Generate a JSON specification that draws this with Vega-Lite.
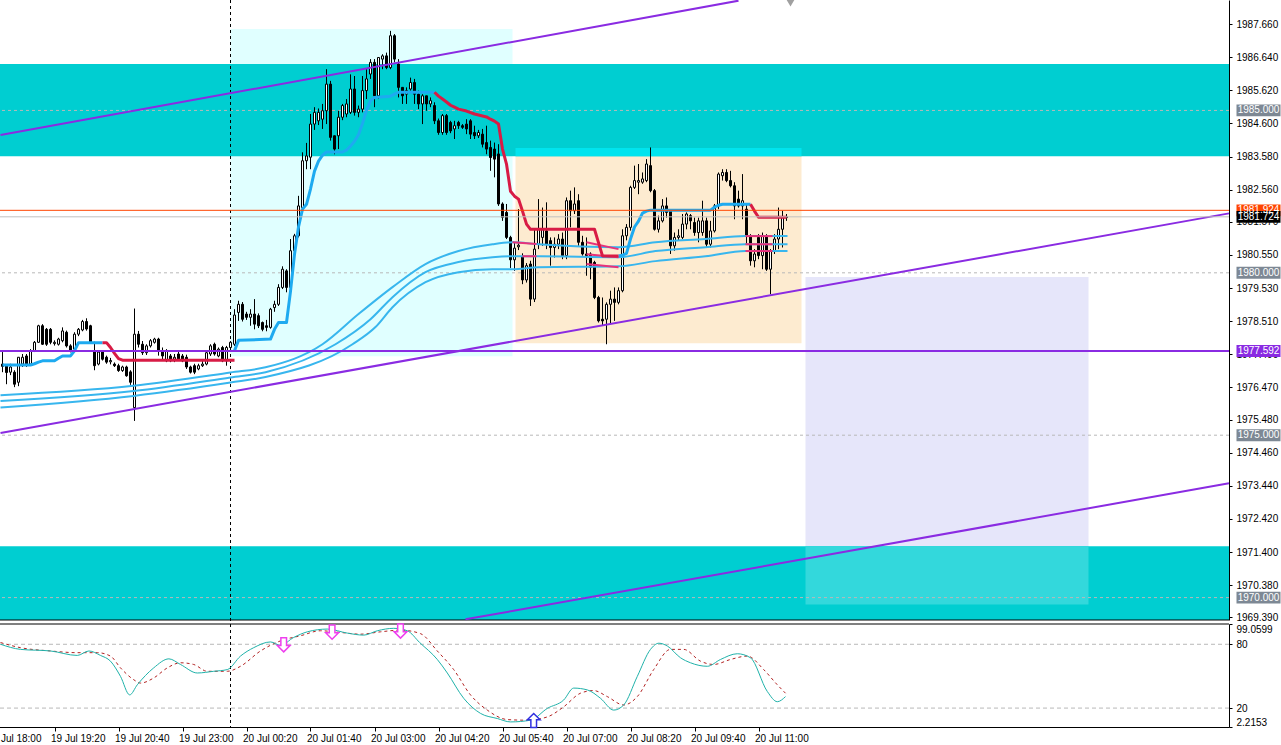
{
"$schema": "https://vega.github.io/schema/vega-lite/v6.json",
"width": 1229,
"height": 727,
"autosize": {"type": "none"},
"padding": {"left": 0, "top": 0, "right": 52, "bottom": 18},
"background": "#ffffff",
"config": {
  "view": {"stroke": null},
  "scale": {"continuousPadding": 0},
  "axis": {"labelFont": "Liberation Sans", "labelFontSize": 10, "labelColor": "#000000", "domainColor": "#000000", "tickColor": "#000000", "grid": false}
},
"datasets": {
  "candles": [
{"i":0,"o":1977.19,"h":1977.56,"l":1976.94,"c":1977.12},
{"i":1,"o":1977.14,"h":1977.19,"l":1976.57,"c":1976.93},
{"i":2,"o":1976.94,"h":1977.2,"l":1976.85,"c":1977.1},
{"i":3,"o":1976.94,"h":1977.0,"l":1976.48,"c":1976.57},
{"i":4,"o":1976.63,"h":1977.4,"l":1976.51,"c":1977.4},
{"i":5,"o":1977.19,"h":1977.5,"l":1977.1,"c":1977.4},
{"i":6,"o":1977.44,"h":1977.5,"l":1977.1,"c":1977.19},
{"i":7,"o":1977.19,"h":1977.65,"l":1977.15,"c":1977.6},
{"i":8,"o":1977.6,"h":1977.9,"l":1977.56,"c":1977.86},
{"i":9,"o":1977.86,"h":1978.4,"l":1977.84,"c":1978.37},
{"i":10,"o":1978.37,"h":1978.42,"l":1977.78,"c":1977.8},
{"i":11,"o":1978.26,"h":1978.3,"l":1977.75,"c":1977.8},
{"i":12,"o":1978.26,"h":1978.3,"l":1977.8,"c":1977.86},
{"i":13,"o":1977.82,"h":1977.92,"l":1977.76,"c":1977.86},
{"i":14,"o":1977.8,"h":1978.0,"l":1977.76,"c":1977.96},
{"i":15,"o":1977.91,"h":1978.32,"l":1977.86,"c":1978.21},
{"i":16,"o":1978.17,"h":1978.22,"l":1977.7,"c":1977.75},
{"i":17,"o":1977.75,"h":1977.8,"l":1977.55,"c":1977.6},
{"i":18,"o":1977.65,"h":1978.17,"l":1977.6,"c":1978.11},
{"i":19,"o":1978.11,"h":1978.3,"l":1978.05,"c":1978.26},
{"i":20,"o":1978.24,"h":1978.55,"l":1978.2,"c":1978.5},
{"i":21,"o":1978.5,"h":1978.6,"l":1978.22,"c":1978.27},
{"i":22,"o":1978.37,"h":1978.4,"l":1977.82,"c":1977.86},
{"i":23,"o":1977.6,"h":1977.88,"l":1977.0,"c":1977.14},
{"i":24,"o":1977.19,"h":1977.62,"l":1977.15,"c":1977.56},
{"i":25,"o":1977.56,"h":1977.62,"l":1977.3,"c":1977.34},
{"i":26,"o":1977.4,"h":1977.45,"l":1977.2,"c":1977.25},
{"i":27,"o":1977.26,"h":1977.38,"l":1977.18,"c":1977.3},
{"i":28,"o":1977.19,"h":1977.24,"l":1977.1,"c":1977.14},
{"i":29,"o":1977.14,"h":1977.2,"l":1976.95,"c":1976.99},
{"i":30,"o":1976.99,"h":1977.14,"l":1976.95,"c":1977.1},
{"i":31,"o":1977.1,"h":1977.14,"l":1976.8,"c":1976.83},
{"i":32,"o":1976.95,"h":1977.0,"l":1976.55,"c":1976.63},
{"i":33,"o":1975.85,"h":1978.9,"l":1975.44,"c":1978.11},
{"i":34,"o":1978.11,"h":1978.21,"l":1977.7,"c":1977.8},
{"i":35,"o":1977.8,"h":1977.9,"l":1977.47,"c":1977.54},
{"i":36,"o":1977.54,"h":1977.8,"l":1977.47,"c":1977.75},
{"i":37,"o":1977.75,"h":1977.96,"l":1977.7,"c":1977.91},
{"i":38,"o":1977.86,"h":1978.0,"l":1977.82,"c":1977.96},
{"i":39,"o":1977.96,"h":1978.0,"l":1977.45,"c":1977.6},
{"i":40,"o":1977.6,"h":1977.7,"l":1977.33,"c":1977.44},
{"i":41,"o":1977.29,"h":1977.65,"l":1977.25,"c":1977.6},
{"i":42,"o":1977.44,"h":1977.5,"l":1977.25,"c":1977.29},
{"i":43,"o":1977.34,"h":1977.5,"l":1977.25,"c":1977.4},
{"i":44,"o":1977.5,"h":1977.58,"l":1977.3,"c":1977.34},
{"i":45,"o":1977.44,"h":1977.5,"l":1977.25,"c":1977.29},
{"i":46,"o":1977.4,"h":1977.48,"l":1977.04,"c":1977.1},
{"i":47,"o":1977.1,"h":1977.14,"l":1976.9,"c":1976.94},
{"i":48,"o":1977.14,"h":1977.2,"l":1976.88,"c":1976.94},
{"i":49,"o":1977.04,"h":1977.2,"l":1977.0,"c":1977.14},
{"i":50,"o":1977.14,"h":1977.3,"l":1977.1,"c":1977.19},
{"i":51,"o":1977.19,"h":1977.58,"l":1977.15,"c":1977.54},
{"i":52,"o":1977.5,"h":1977.8,"l":1977.44,"c":1977.75},
{"i":53,"o":1977.8,"h":1977.85,"l":1977.45,"c":1977.5},
{"i":54,"o":1977.44,"h":1977.7,"l":1977.4,"c":1977.65},
{"i":55,"o":1977.7,"h":1977.75,"l":1977.25,"c":1977.29},
{"i":56,"o":1977.29,"h":1977.75,"l":1977.14,"c":1977.7},
{"i":57,"o":1977.7,"h":1977.9,"l":1977.65,"c":1977.86},
{"i":58,"o":1977.8,"h":1978.88,"l":1977.75,"c":1978.7},
{"i":59,"o":1978.78,"h":1979.14,"l":1978.52,"c":1979.03},
{"i":60,"o":1979.03,"h":1979.1,"l":1978.5,"c":1978.57},
{"i":61,"o":1978.73,"h":1978.8,"l":1978.55,"c":1978.63},
{"i":62,"o":1978.63,"h":1978.88,"l":1978.37,"c":1978.73},
{"i":63,"o":1978.73,"h":1979.19,"l":1978.26,"c":1978.42},
{"i":64,"o":1978.68,"h":1978.75,"l":1978.3,"c":1978.37},
{"i":65,"o":1978.47,"h":1978.5,"l":1978.2,"c":1978.26},
{"i":66,"o":1978.37,"h":1978.55,"l":1978.2,"c":1978.32},
{"i":67,"o":1978.32,"h":1978.92,"l":1978.28,"c":1978.88},
{"i":68,"o":1978.93,"h":1979.14,"l":1978.8,"c":1979.03},
{"i":69,"o":1979.03,"h":1979.65,"l":1978.98,"c":1979.55},
{"i":70,"o":1979.55,"h":1980.2,"l":1979.5,"c":1980.11},
{"i":71,"o":1980.06,"h":1980.11,"l":1979.4,"c":1979.55},
{"i":72,"o":1979.55,"h":1981.04,"l":1979.45,"c":1980.68},
{"i":73,"o":1980.68,"h":1981.2,"l":1980.6,"c":1981.14},
{"i":74,"o":1981.14,"h":1982.37,"l":1981.09,"c":1982.06},
{"i":75,"o":1982.01,"h":1983.71,"l":1981.81,"c":1983.45},
{"i":76,"o":1983.45,"h":1984.0,"l":1983.19,"c":1983.6},
{"i":77,"o":1983.56,"h":1984.89,"l":1983.19,"c":1984.58},
{"i":78,"o":1984.58,"h":1985.1,"l":1984.4,"c":1984.94},
{"i":79,"o":1984.68,"h":1985.06,"l":1984.55,"c":1984.94},
{"i":80,"o":1984.73,"h":1985.2,"l":1984.43,"c":1984.99},
{"i":81,"o":1984.99,"h":1986.27,"l":1984.58,"c":1985.81},
{"i":82,"o":1985.81,"h":1985.91,"l":1984.07,"c":1984.17},
{"i":83,"o":1984.22,"h":1984.22,"l":1983.65,"c":1983.81},
{"i":84,"o":1984.22,"h":1984.99,"l":1983.81,"c":1984.79},
{"i":85,"o":1984.79,"h":1985.2,"l":1984.7,"c":1985.15},
{"i":86,"o":1984.89,"h":1985.35,"l":1984.79,"c":1985.2},
{"i":87,"o":1984.94,"h":1986.11,"l":1984.89,"c":1985.66},
{"i":88,"o":1985.66,"h":1986.06,"l":1984.84,"c":1984.94},
{"i":89,"o":1984.94,"h":1985.15,"l":1984.79,"c":1985.04},
{"i":90,"o":1985.04,"h":1986.06,"l":1984.94,"c":1985.61},
{"i":91,"o":1985.61,"h":1986.27,"l":1985.35,"c":1985.97},
{"i":92,"o":1986.12,"h":1986.58,"l":1985.97,"c":1986.48},
{"i":93,"o":1986.48,"h":1986.58,"l":1985.1,"c":1985.45},
{"i":94,"o":1985.45,"h":1986.63,"l":1985.35,"c":1986.63},
{"i":95,"o":1986.58,"h":1986.73,"l":1986.27,"c":1986.68},
{"i":96,"o":1986.68,"h":1986.78,"l":1986.27,"c":1986.32},
{"i":97,"o":1986.32,"h":1987.45,"l":1986.27,"c":1987.3},
{"i":98,"o":1987.3,"h":1987.35,"l":1986.48,"c":1986.58},
{"i":99,"o":1986.43,"h":1986.58,"l":1985.4,"c":1985.71},
{"i":100,"o":1985.71,"h":1985.71,"l":1985.2,"c":1985.45},
{"i":101,"o":1985.5,"h":1985.71,"l":1985.2,"c":1985.61},
{"i":102,"o":1985.66,"h":1986.01,"l":1985.61,"c":1985.86},
{"i":103,"o":1985.86,"h":1985.97,"l":1985.2,"c":1985.5},
{"i":104,"o":1985.5,"h":1985.61,"l":1985.04,"c":1985.2},
{"i":105,"o":1985.2,"h":1985.5,"l":1984.58,"c":1985.45},
{"i":106,"o":1985.45,"h":1985.45,"l":1984.99,"c":1985.2},
{"i":107,"o":1985.2,"h":1985.4,"l":1985.1,"c":1985.3},
{"i":108,"o":1985.15,"h":1985.25,"l":1984.58,"c":1984.68},
{"i":109,"o":1984.68,"h":1984.75,"l":1984.25,"c":1984.32},
{"i":110,"o":1984.32,"h":1984.89,"l":1984.25,"c":1984.84},
{"i":111,"o":1984.84,"h":1984.89,"l":1984.25,"c":1984.32},
{"i":112,"o":1984.63,"h":1984.68,"l":1984.3,"c":1984.37},
{"i":113,"o":1984.43,"h":1984.68,"l":1984.12,"c":1984.53},
{"i":114,"o":1984.63,"h":1984.68,"l":1984.43,"c":1984.53},
{"i":115,"o":1984.53,"h":1984.58,"l":1984.43,"c":1984.48},
{"i":116,"o":1984.58,"h":1984.73,"l":1984.27,"c":1984.43},
{"i":117,"o":1984.68,"h":1984.73,"l":1984.12,"c":1984.27},
{"i":118,"o":1984.32,"h":1984.53,"l":1984.12,"c":1984.22},
{"i":119,"o":1984.22,"h":1984.4,"l":1984.15,"c":1984.32},
{"i":120,"o":1984.27,"h":1984.43,"l":1983.86,"c":1983.96},
{"i":121,"o":1984.01,"h":1984.53,"l":1983.65,"c":1983.81},
{"i":122,"o":1983.86,"h":1984.07,"l":1983.14,"c":1983.55},
{"i":123,"o":1983.81,"h":1984.01,"l":1982.94,"c":1983.5},
{"i":124,"o":1983.66,"h":1983.96,"l":1982.06,"c":1982.12},
{"i":125,"o":1982.12,"h":1982.17,"l":1981.6,"c":1981.71},
{"i":126,"o":1981.86,"h":1982.12,"l":1981.04,"c":1981.09},
{"i":127,"o":1981.09,"h":1981.14,"l":1980.15,"c":1980.4},
{"i":128,"o":1980.4,"h":1980.94,"l":1980.06,"c":1980.76},
{"i":129,"o":1980.8,"h":1981.96,"l":1980.7,"c":1980.85},
{"i":130,"o":1980.5,"h":1980.6,"l":1979.65,"c":1979.78},
{"i":131,"o":1979.78,"h":1980.3,"l":1979.7,"c":1980.22},
{"i":132,"o":1980.27,"h":1980.37,"l":1978.98,"c":1979.19},
{"i":133,"o":1979.19,"h":1981.34,"l":1979.1,"c":1980.73},
{"i":134,"o":1980.88,"h":1982.27,"l":1980.73,"c":1981.34},
{"i":135,"o":1981.09,"h":1982.01,"l":1980.83,"c":1981.34},
{"i":136,"o":1981.29,"h":1982.17,"l":1980.73,"c":1980.88},
{"i":137,"o":1980.99,"h":1981.09,"l":1980.22,"c":1980.78},
{"i":138,"o":1980.78,"h":1981.09,"l":1980.47,"c":1980.88},
{"i":139,"o":1980.88,"h":1981.19,"l":1980.73,"c":1981.04},
{"i":140,"o":1981.04,"h":1981.24,"l":1980.42,"c":1980.53},
{"i":141,"o":1980.53,"h":1982.32,"l":1980.42,"c":1982.22},
{"i":142,"o":1982.22,"h":1982.53,"l":1981.4,"c":1981.91},
{"i":143,"o":1981.91,"h":1982.63,"l":1981.81,"c":1982.12},
{"i":144,"o":1982.22,"h":1982.42,"l":1980.83,"c":1980.94},
{"i":145,"o":1980.94,"h":1981.14,"l":1980.53,"c":1980.58},
{"i":146,"o":1980.58,"h":1981.09,"l":1979.91,"c":1980.53},
{"i":147,"o":1980.58,"h":1980.63,"l":1979.8,"c":1980.17},
{"i":148,"o":1980.32,"h":1980.37,"l":1979.19,"c":1979.24},
{"i":149,"o":1979.24,"h":1979.29,"l":1978.47,"c":1978.52},
{"i":150,"o":1978.57,"h":1979.24,"l":1978.37,"c":1978.52},
{"i":151,"o":1978.57,"h":1979.09,"l":1977.8,"c":1979.03},
{"i":152,"o":1979.03,"h":1979.45,"l":1978.42,"c":1979.19},
{"i":153,"o":1979.19,"h":1979.55,"l":1978.52,"c":1979.09},
{"i":154,"o":1979.09,"h":1979.55,"l":1979.03,"c":1979.45},
{"i":155,"o":1979.45,"h":1981.34,"l":1979.4,"c":1981.14},
{"i":156,"o":1981.14,"h":1981.5,"l":1981.0,"c":1981.4},
{"i":157,"o":1981.4,"h":1982.68,"l":1981.3,"c":1982.63},
{"i":158,"o":1982.63,"h":1983.3,"l":1982.58,"c":1982.84},
{"i":159,"o":1982.79,"h":1983.35,"l":1982.42,"c":1982.84},
{"i":160,"o":1982.79,"h":1983.09,"l":1982.74,"c":1982.89},
{"i":161,"o":1982.84,"h":1983.5,"l":1982.79,"c":1983.35},
{"i":162,"o":1983.3,"h":1983.86,"l":1982.48,"c":1982.53},
{"i":163,"o":1982.53,"h":1982.58,"l":1981.3,"c":1981.34},
{"i":164,"o":1981.34,"h":1981.76,"l":1981.24,"c":1981.6},
{"i":165,"o":1981.6,"h":1982.27,"l":1981.55,"c":1982.06},
{"i":166,"o":1982.06,"h":1982.32,"l":1981.7,"c":1981.86},
{"i":167,"o":1981.91,"h":1981.96,"l":1980.58,"c":1980.83},
{"i":168,"o":1980.83,"h":1981.24,"l":1980.68,"c":1981.09},
{"i":169,"o":1981.09,"h":1981.34,"l":1981.0,"c":1981.14},
{"i":170,"o":1981.09,"h":1981.81,"l":1981.04,"c":1981.5},
{"i":171,"o":1981.5,"h":1981.86,"l":1981.34,"c":1981.81},
{"i":172,"o":1981.76,"h":1981.81,"l":1981.34,"c":1981.6},
{"i":173,"o":1981.55,"h":1981.7,"l":1981.14,"c":1981.24},
{"i":174,"o":1981.24,"h":1981.7,"l":1980.94,"c":1981.6},
{"i":175,"o":1981.24,"h":1982.22,"l":1981.14,"c":1981.6},
{"i":176,"o":1981.6,"h":1981.7,"l":1980.78,"c":1980.88},
{"i":177,"o":1980.88,"h":1981.6,"l":1980.78,"c":1981.29},
{"i":178,"o":1981.29,"h":1982.12,"l":1981.24,"c":1982.06},
{"i":179,"o":1982.06,"h":1983.09,"l":1981.96,"c":1983.04},
{"i":180,"o":1982.99,"h":1983.19,"l":1982.84,"c":1983.09},
{"i":181,"o":1983.09,"h":1983.19,"l":1982.79,"c":1982.84},
{"i":182,"o":1982.84,"h":1983.14,"l":1982.63,"c":1982.68},
{"i":183,"o":1982.68,"h":1982.79,"l":1981.65,"c":1982.06},
{"i":184,"o":1982.27,"h":1982.53,"l":1982.01,"c":1982.06},
{"i":185,"o":1982.06,"h":1983.04,"l":1981.65,"c":1982.22},
{"i":186,"o":1981.96,"h":1982.12,"l":1980.88,"c":1981.14},
{"i":187,"o":1981.14,"h":1981.19,"l":1980.22,"c":1980.37},
{"i":188,"o":1980.37,"h":1980.73,"l":1980.17,"c":1980.58},
{"i":189,"o":1981.09,"h":1981.19,"l":1980.42,"c":1980.53},
{"i":190,"o":1980.53,"h":1981.24,"l":1980.11,"c":1981.14},
{"i":191,"o":1981.14,"h":1981.19,"l":1980.06,"c":1980.11},
{"i":192,"o":1980.11,"h":1980.73,"l":1979.34,"c":1980.68},
{"i":193,"o":1980.68,"h":1981.19,"l":1980.58,"c":1981.04},
{"i":194,"o":1981.04,"h":1982.01,"l":1980.73,"c":1981.34},
{"i":195,"o":1981.34,"h":1981.91,"l":1980.78,"c":1981.7},
{"i":196,"o":1981.7,"h":1981.81,"l":1981.6,"c":1981.724}
  ],
  "zones": [
    {"kind":"lightcyan","i":57,"i2":127.5,"p":1977.43,"p2":1987.51},
    {"kind":"peach","i":128.25,"i2":199.75,"p":1977.83,"p2":1983.84},
    {"kind":"lavender","i":200.75,"i2":271.5,"p":1969.79,"p2":1979.87},
    {"kind":"band","i":-0.625,"i2":306.625,"p":1983.59,"p2":1986.43},
    {"kind":"band","i":-0.625,"i2":306.625,"p":1969.31,"p2":1971.58},
    {"kind":"peachband","i":128.25,"i2":199.75,"p":1983.59,"p2":1983.84},
    {"kind":"lavband","i":200.75,"i2":271.5,"p":1969.79,"p2":1971.58}
  ],
  "levels": [{"p":1985},{"p":1980},{"p":1975},{"p":1970}],
  "ma": [
    {"line":"L1","i":-0.5,"p":1976.23},{"line":"L1","i":32.75,"p":1976.52},{"line":"L1","i":57,"p":1976.93},{"line":"L1","i":65.75,"p":1977.09},{"line":"L1","i":80,"p":1977.8},{"line":"L1","i":89,"p":1978.73},{"line":"L1","i":97.5,"p":1979.56},{"line":"L1","i":105.75,"p":1980.27},{"line":"L1","i":114,"p":1980.67},{"line":"L1","i":122.5,"p":1980.88},{"line":"L1","i":127.5,"p":1980.94},{"line":"L1","i":134,"p":1980.88},{"line":"L1","i":154,"p":1980.79},{"line":"L1","i":163.25,"p":1980.94},{"line":"L1","i":175.75,"p":1981.04},{"line":"L1","i":185.75,"p":1981.13},{"line":"L1","i":196.25,"p":1981.13},
    {"line":"L2","i":-0.5,"p":1976.05},{"line":"L2","i":32.75,"p":1976.36},{"line":"L2","i":57,"p":1976.78},{"line":"L2","i":65.75,"p":1976.94},{"line":"L2","i":83.25,"p":1977.8},{"line":"L2","i":92,"p":1978.57},{"line":"L2","i":97.5,"p":1979.25},{"line":"L2","i":105.75,"p":1980.02},{"line":"L2","i":114,"p":1980.33},{"line":"L2","i":122.5,"p":1980.48},{"line":"L2","i":127.5,"p":1980.51},{"line":"L2","i":134,"p":1980.51},{"line":"L2","i":154,"p":1980.48},{"line":"L2","i":163.25,"p":1980.67},{"line":"L2","i":175.75,"p":1980.79},{"line":"L2","i":185.75,"p":1980.88},{"line":"L2","i":196.25,"p":1980.88},
    {"line":"L3","i":-0.5,"p":1975.85},{"line":"L3","i":32.75,"p":1976.21},{"line":"L3","i":57,"p":1976.62},{"line":"L3","i":65.75,"p":1976.79},{"line":"L3","i":87.5,"p":1977.8},{"line":"L3","i":93.25,"p":1978.33},{"line":"L3","i":97.5,"p":1978.94},{"line":"L3","i":105.75,"p":1979.71},{"line":"L3","i":114,"p":1980.02},{"line":"L3","i":122.5,"p":1980.11},{"line":"L3","i":127.5,"p":1980.11},{"line":"L3","i":134,"p":1980.17},{"line":"L3","i":154,"p":1980.2},{"line":"L3","i":163.25,"p":1980.36},{"line":"L3","i":175.75,"p":1980.51},{"line":"L3","i":185.75,"p":1980.67},{"line":"L3","i":196.25,"p":1980.67}
  ],
  "mapink": [
    {"seg":"a1","i":127.5,"p":1980.94},{"seg":"a1","i":133.5,"p":1980.89},
    {"seg":"a2","i":130,"p":1980.51},{"seg":"a2","i":133.5,"p":1980.51},
    {"seg":"b1","i":146,"p":1980.94},{"seg":"b1","i":154,"p":1980.73},
    {"seg":"b2","i":146,"p":1980.57},{"seg":"b2","i":154,"p":1980.48},
    {"seg":"b3","i":146,"p":1980.27},{"seg":"b3","i":154,"p":1980.17},
    {"seg":"c1","i":185.75,"p":1981.13},{"seg":"c1","i":192.5,"p":1981.13},
    {"seg":"c2","i":185.75,"p":1980.88},{"seg":"c2","i":192.5,"p":1980.88},
    {"seg":"c3","i":185.75,"p":1980.67},{"seg":"c3","i":192.5,"p":1980.67}
  ],
  "trail": [
    {"seg":"u1","kind":"up","i":0,"p":1977.16},{"seg":"u1","kind":"up","i":7,"p":1977.16},{"seg":"u1","kind":"up","i":8,"p":1977.2},{"seg":"u1","kind":"up","i":9,"p":1977.25},{"seg":"u1","kind":"up","i":10,"p":1977.29},{"seg":"u1","kind":"up","i":13,"p":1977.29},{"seg":"u1","kind":"up","i":14,"p":1977.37},{"seg":"u1","kind":"up","i":15,"p":1977.44},{"seg":"u1","kind":"up","i":17,"p":1977.44},{"seg":"u1","kind":"up","i":18,"p":1977.6},{"seg":"u1","kind":"up","i":19,"p":1977.85},{"seg":"u1","kind":"up","i":25,"p":1977.85},
    {"seg":"d1","kind":"down","i":25,"p":1977.85},{"seg":"d1","kind":"down","i":26,"p":1977.85},{"seg":"d1","kind":"down","i":27,"p":1977.7},{"seg":"d1","kind":"down","i":28,"p":1977.52},{"seg":"d1","kind":"down","i":29,"p":1977.36},{"seg":"d1","kind":"down","i":30,"p":1977.31},{"seg":"d1","kind":"down","i":58,"p":1977.31},
    {"seg":"u2","kind":"up","i":58,"p":1977.6},{"seg":"u2","kind":"up","i":59,"p":1977.92},{"seg":"u2","kind":"up","i":67,"p":1977.96},{"seg":"u2","kind":"up","i":68,"p":1978.26},{"seg":"u2","kind":"up","i":69,"p":1978.47},{"seg":"u2","kind":"up","i":71,"p":1978.47},{"seg":"u2","kind":"up","i":72,"p":1979.43},{"seg":"u2","kind":"up","i":73,"p":1980.57},{"seg":"u2","kind":"up","i":74,"p":1981.41},{"seg":"u2","kind":"up","i":75,"p":1981.96},{"seg":"u2","kind":"up","i":76,"p":1982.11},{"seg":"u2","kind":"up","i":77,"p":1982.58},{"seg":"u2","kind":"up","i":78,"p":1983.13},{"seg":"u2","kind":"up","i":79,"p":1983.44},{"seg":"u2","kind":"up","i":80,"p":1983.62},{"seg":"u2","kind":"up","i":81,"p":1983.72},{"seg":"u2","kind":"up","i":85,"p":1983.72},{"seg":"u2","kind":"up","i":86,"p":1983.78},{"seg":"u2","kind":"up","i":87,"p":1983.9},{"seg":"u2","kind":"up","i":88,"p":1984.05},{"seg":"u2","kind":"up","i":89,"p":1984.25},{"seg":"u2","kind":"up","i":90,"p":1984.6},{"seg":"u2","kind":"up","i":91,"p":1985.0},{"seg":"u2","kind":"up","i":92,"p":1985.3},{"seg":"u2","kind":"up","i":93,"p":1985.4},{"seg":"u2","kind":"up","i":97,"p":1985.44},{"seg":"u2","kind":"up","i":98,"p":1985.5},{"seg":"u2","kind":"up","i":99,"p":1985.56},{"seg":"u2","kind":"up","i":108,"p":1985.56},
    {"seg":"d2","kind":"down","i":108,"p":1985.56},{"seg":"d2","kind":"down","i":109,"p":1985.44},{"seg":"d2","kind":"down","i":110,"p":1985.35},{"seg":"d2","kind":"down","i":111,"p":1985.26},{"seg":"d2","kind":"down","i":112,"p":1985.16},{"seg":"d2","kind":"down","i":113,"p":1985.1},{"seg":"d2","kind":"down","i":114,"p":1985.04},{"seg":"d2","kind":"down","i":116,"p":1984.98},{"seg":"d2","kind":"down","i":118,"p":1984.89},{"seg":"d2","kind":"down","i":121,"p":1984.8},{"seg":"d2","kind":"down","i":122,"p":1984.73},{"seg":"d2","kind":"down","i":123,"p":1984.67},{"seg":"d2","kind":"down","i":124,"p":1984.58},{"seg":"d2","kind":"down","i":125,"p":1983.81},{"seg":"d2","kind":"down","i":126,"p":1983.35},{"seg":"d2","kind":"down","i":127,"p":1982.51},{"seg":"d2","kind":"down","i":128,"p":1982.36},{"seg":"d2","kind":"down","i":129,"p":1982.27},{"seg":"d2","kind":"down","i":130,"p":1981.9},{"seg":"d2","kind":"down","i":131,"p":1981.5},{"seg":"d2","kind":"down","i":132,"p":1981.34},{"seg":"d2","kind":"down","i":148,"p":1981.34},{"seg":"d2","kind":"down","i":149,"p":1980.93},{"seg":"d2","kind":"down","i":150,"p":1980.52},{"seg":"d2","kind":"down","i":154,"p":1980.52},
    {"seg":"u3","kind":"up","i":154,"p":1980.52},{"seg":"u3","kind":"up","i":155,"p":1980.54},{"seg":"u3","kind":"up","i":156,"p":1980.6},{"seg":"u3","kind":"up","i":157,"p":1981.04},{"seg":"u3","kind":"up","i":158,"p":1981.41},{"seg":"u3","kind":"up","i":159,"p":1981.59},{"seg":"u3","kind":"up","i":160,"p":1981.84},{"seg":"u3","kind":"up","i":161,"p":1981.9},{"seg":"u3","kind":"up","i":162,"p":1981.93},{"seg":"u3","kind":"up","i":177,"p":1981.93},{"seg":"u3","kind":"up","i":178,"p":1982.02},{"seg":"u3","kind":"up","i":179,"p":1982.08},{"seg":"u3","kind":"up","i":180,"p":1982.11},{"seg":"u3","kind":"up","i":187,"p":1982.11},
    {"seg":"d3","kind":"down","i":187,"p":1982.11},{"seg":"d3","kind":"down","i":188,"p":1981.9},{"seg":"d3","kind":"down","i":189,"p":1981.71},{"seg":"d3","kind":"down","i":196,"p":1981.71}
  ],
  "trend": [
    {"line":"up","i":-0.5,"p":1984.24},{"line":"up","i":184,"p":1988.38},
    {"line":"mid","i":-0.5,"p":1975.07},{"line":"mid","i":306.625,"p":1981.83},
    {"line":"low","i":115.75,"p":1969.33},{"line":"low","i":306.625,"p":1973.52},
    {"line":"hz","i":-0.625,"p":1977.592},{"line":"hz","i":306.625,"p":1977.592}
  ],
  "hl": [{"kind":"ask","p":1981.924},{"kind":"bid","p":1981.724}],
  "boxes": [{"kind":"level","p":1985},{"kind":"level","p":1980},{"kind":"level","p":1975},{"kind":"level","p":1970},{"kind":"hline","p":1977.592},{"kind":"ask","p":1981.924},{"kind":"bid","p":1981.724}],
  "stk": [
    {"i":-0.5,"v":80},{"i":4.5,"v":75.2},{"i":12,"v":73.7},{"i":18.7,"v":69.5},{"i":21.6,"v":73.7},{"i":24.5,"v":69.5},{"i":27,"v":64.1},{"i":29.5,"v":49.8},{"i":31.8,"v":32.4},{"i":33.7,"v":41.9},{"i":37.8,"v":57.8},{"i":41.6,"v":66.3},{"i":44.5,"v":61},{"i":48.7,"v":53},{"i":52.8,"v":54.6},{"i":56.2,"v":56.2},{"i":59.5,"v":68.9},{"i":62.8,"v":76.8},{"i":67,"v":82.2},{"i":69.5,"v":79},{"i":72.8,"v":86.4},{"i":76.2,"v":91.7},{"i":81.2,"v":94.3},{"i":86.2,"v":90.5},{"i":90.3,"v":88.6},{"i":93.7,"v":92.7},{"i":97.8,"v":95},{"i":101.2,"v":92.7},{"i":104.3,"v":81.6},{"i":108.7,"v":65.7},{"i":111.2,"v":53},{"i":115.3,"v":29.2},{"i":119.5,"v":15},{"i":123.7,"v":10.2},{"i":127,"v":7},{"i":132,"v":8.6},{"i":136.2,"v":19.7},{"i":140.3,"v":27.6},{"i":142.8,"v":38.8},{"i":146.2,"v":37.1},{"i":149.5,"v":29.2},{"i":152.8,"v":18.1},{"i":155.3,"v":22.9},{"i":158.7,"v":49.8},{"i":162,"v":75.2},{"i":164.1,"v":81},{"i":166.2,"v":78.4},{"i":169.5,"v":67.3},{"i":172,"v":62.6},{"i":176.2,"v":59.3},{"i":179.5,"v":65.7},{"i":183.7,"v":71.1},{"i":187,"v":67.3},{"i":191.2,"v":35.6},{"i":193.7,"v":26},{"i":195.75,"v":30.8}
  ],
  "std": [
    {"i":-0.5,"v":81.6},{"i":4.5,"v":76.8},{"i":12,"v":73.7},{"i":18.7,"v":72.1},{"i":23.7,"v":72.1},{"i":27,"v":68.9},{"i":29.5,"v":57.8},{"i":32.8,"v":46.7},{"i":34.5,"v":43.5},{"i":37.8,"v":48.3},{"i":41.2,"v":57.8},{"i":44.5,"v":62.6},{"i":47.8,"v":61},{"i":51.2,"v":54.6},{"i":56.2,"v":54.6},{"i":59.5,"v":59.3},{"i":64.5,"v":73.7},{"i":69.5,"v":83.2},{"i":74.5,"v":88},{"i":79.5,"v":92.7},{"i":84.5,"v":91.1},{"i":89.5,"v":89.5},{"i":94.5,"v":91.7},{"i":99.5,"v":93.3},{"i":104.5,"v":90},{"i":108.7,"v":73.7},{"i":112.8,"v":56.2},{"i":117,"v":32.4},{"i":121.2,"v":18.1},{"i":126.2,"v":9.2},{"i":131.2,"v":8.6},{"i":136.2,"v":11.7},{"i":140.3,"v":21.2},{"i":144.5,"v":34},{"i":147.8,"v":36.5},{"i":151.2,"v":30.8},{"i":155.3,"v":22.9},{"i":158.7,"v":30.8},{"i":162.8,"v":56.2},{"i":167,"v":75.2},{"i":170.3,"v":75.2},{"i":174.5,"v":64.1},{"i":177.8,"v":61},{"i":182,"v":65.7},{"i":186.2,"v":68.9},{"i":190.3,"v":56.2},{"i":193.7,"v":41.9},{"i":195.75,"v":34}
  ],
  "stlev": [{"v":80},{"v":20}],
  "arrdn": [{"i":70.3,"v":79.5},{"i":82.4,"v":91.4},{"i":99.5,"v":92.4}],
  "arrup": [{"i":132.8,"v":8.3}]
},
"layer": [
 {
  "layer": [
   {"data": {"name": "zones"}, "mark": {"type": "rect"},
    "encoding": {
      "x": {"field": "i", "type": "quantitative", "scale": {"domain": [-3.625, 306.625], "range": [-12, 1229], "nice": false, "zero": false, "padding": 0}},
      "x2": {"field": "i2"},
      "y": {"field": "p", "type": "quantitative", "scale": {"domain": [1969.31, 1988.4], "range": [620, 0], "nice": false, "zero": false, "padding": 0}},
      "y2": {"field": "p2"},
      "color": {"field": "kind", "type": "nominal", "legend": null, "scale": {"domain": ["lightcyan","peach","lavender","band","peachband","lavband"], "range": ["#E0FFFF","#FDEBD0","#E6E6FA","#00CED1","#00E4EE","#33D8DC"]}}
    }},
   {"data": {"name": "levels"}, "mark": {"type": "rule", "color": "#B8B8B8", "strokeDash": [3, 3], "strokeWidth": 1},
    "encoding": {"y": {"field": "p", "type": "quantitative"}}},
   {"data": {"values": [{"edge": "bottom"}]}, "mark": {"type": "rule", "color": "#000000", "strokeWidth": 1},
    "encoding": {"y": {"datum": 1969.31, "type": "quantitative"}}},
   {"data": {"values": [{"sep": "day"}]}, "mark": {"type": "rule", "color": "#000000", "strokeDash": [3, 3], "strokeWidth": 1},
    "encoding": {"x": {"datum": 57, "type": "quantitative"}}},
   {"data": {"name": "candles"}, "mark": {"type": "rule", "color": "#000000", "strokeWidth": 1},
    "encoding": {
      "x": {"field": "i", "type": "quantitative", "scale": {"domain": [-3.625, 306.625], "range": [-12, 1229], "nice": false, "zero": false, "padding": 0},
            "axis": {"orient": "bottom", "title": null, "zindex": 0, "values": [-3,13,29,45,61,77,93,109,125,141,157,173,189],
                     "labelExpr": "['19 Jul 18:00','19 Jul 19:20','19 Jul 20:40','19 Jul 23:00','20 Jul 00:20','20 Jul 01:40','20 Jul 03:00','20 Jul 04:20','20 Jul 05:40','20 Jul 07:00','20 Jul 08:20','20 Jul 09:40','20 Jul 11:00'][(datum.value + 3) / 16]",
                     "labelAlign": "left", "labelBaseline": "top", "labelFlush": false, "labelOverlap": false, "labelPadding": 2, "labelOffset": -4, "tickSize": 4, "grid": false}},
      "y": {"field": "l", "type": "quantitative", "scale": {"domain": [1969.31, 1988.4], "range": [620, 0], "nice": false, "zero": false, "padding": 0},
            "axis": {"orient": "right", "title": null, "zindex": 0, "values": [1987.66,1986.64,1985.62,1984.6,1983.58,1982.56,1981.57,1980.55,1979.53,1978.51,1977.49,1976.47,1975.48,1974.46,1973.44,1972.42,1971.4,1970.38,1969.39],
                     "format": ".3f", "labelFlush": false, "labelOverlap": false, "tickSize": 3, "labelPadding": 4, "grid": false}},
      "y2": {"field": "h"}
    }},
   {"data": {"name": "candles"}, "mark": {"type": "bar", "size": 2, "stroke": "#000000", "strokeWidth": 1},
    "encoding": {
      "x": {"field": "i", "type": "quantitative"},
      "y": {"field": "o", "type": "quantitative"},
      "y2": {"field": "c"},
      "fill": {"condition": {"test": "datum.c >= datum.o", "value": "#ffffff"}, "value": "#000000"}
    }},
   {"data": {"name": "ma"}, "mark": {"type": "line", "color": "#38B6EE", "strokeWidth": 2, "interpolate": "monotone"},
    "encoding": {
      "x": {"field": "i", "type": "quantitative"},
      "y": {"field": "p", "type": "quantitative"},
      "detail": {"field": "line", "type": "nominal"}
    }},
   {"data": {"name": "mapink"}, "mark": {"type": "line", "color": "#E8317A", "strokeWidth": 2},
    "encoding": {
      "x": {"field": "i", "type": "quantitative"},
      "y": {"field": "p", "type": "quantitative"},
      "detail": {"field": "seg", "type": "nominal"}
    }},
   {"data": {"name": "trail"}, "transform": [{"filter": "datum.kind == 'up'"}], "mark": {"type": "line", "color": "#1EAAF0", "strokeWidth": 3, "strokeJoin": "round"},
    "encoding": {
      "x": {"field": "i", "type": "quantitative"},
      "y": {"field": "p", "type": "quantitative"},
      "detail": {"field": "seg", "type": "nominal"}
    }},
   {"data": {"name": "trail"}, "transform": [{"filter": "datum.kind == 'down'"}], "mark": {"type": "line", "color": "#D81B45", "strokeWidth": 3, "strokeJoin": "round"},
    "encoding": {
      "x": {"field": "i", "type": "quantitative"},
      "y": {"field": "p", "type": "quantitative"},
      "detail": {"field": "seg", "type": "nominal"}
    }},
   {"data": {"name": "trend"}, "mark": {"type": "line", "color": "#8A2BE2", "strokeWidth": 2},
    "encoding": {
      "x": {"field": "i", "type": "quantitative"},
      "y": {"field": "p", "type": "quantitative"},
      "detail": {"field": "line", "type": "nominal"}
    }},
   {"data": {"name": "hl"}, "mark": {"type": "rule", "strokeWidth": 1},
    "encoding": {
      "y": {"field": "p", "type": "quantitative"},
      "stroke": {"field": "kind", "type": "nominal", "legend": null, "scale": {"domain": ["ask","bid"], "range": ["#FF4500","#C0C0C0"]}}
    }},
   {"data": {"name": "boxes"}, "mark": {"type": "point", "shape": "M-1,-0.27L1,-0.27L1,0.27L-1,0.27Z", "size": 1936, "filled": true, "opacity": 1, "strokeWidth": 0},
    "encoding": {
      "x": {"datum": 314, "type": "quantitative"},
      "y": {"field": "p", "type": "quantitative"},
      "fill": {"field": "kind", "type": "nominal", "legend": null, "scale": {"domain": ["level","hline","ask","bid"], "range": ["#7D8894","#8A2BE2","#FF4500","#000000"]}}
    }},
   {"data": {"name": "boxes"}, "mark": {"type": "text", "font": "Liberation Sans", "fontSize": 10, "color": "#ffffff", "align": "center", "baseline": "middle"},
    "encoding": {
      "x": {"datum": 314, "type": "quantitative"},
      "y": {"field": "p", "type": "quantitative"},
      "text": {"field": "p", "type": "quantitative", "format": ".3f"}
    }},
   {"data": {"values": [{"marker": "shift"}]}, "mark": {"type": "point", "shape": "triangle-down", "size": 60, "filled": true, "color": "#A0A0A0", "opacity": 1},
    "encoding": {
      "x": {"datum": 197, "type": "quantitative"},
      "y": {"datum": 1988.3, "type": "quantitative"}
    }}
  ]
 },
 {
  "layer": [
   {"data": {"name": "stlev"}, "mark": {"type": "rule", "color": "#B8B8B8", "strokeDash": [4, 3], "strokeWidth": 1},
    "encoding": {"y": {"field": "v", "type": "quantitative", "scale": {"domain": [2.2153, 99.0599], "range": [727, 624], "nice": false, "zero": false, "padding": 0},
      "axis": {"orient": "right", "title": null, "zindex": 0, "values": [2.2153, 20, 80, 99.0599], "labelExpr": "'' + datum.value", "labelFlush": true, "labelOverlap": false, "tickSize": 3, "labelPadding": 4, "grid": false}}}},
   {"data": {"values": [{"edge": "top"}]}, "mark": {"type": "rule", "color": "#000000", "strokeWidth": 1},
    "encoding": {"y": {"datum": 99.0599, "type": "quantitative"}}},
   {"data": {"name": "std"}, "mark": {"type": "line", "color": "#B22222", "strokeWidth": 1, "strokeDash": [3, 3], "interpolate": "monotone"},
    "encoding": {
      "x": {"field": "i", "type": "quantitative"},
      "y": {"field": "v", "type": "quantitative"}
    }},
   {"data": {"name": "stk"}, "mark": {"type": "line", "color": "#20B2AA", "strokeWidth": 1, "interpolate": "monotone"},
    "encoding": {
      "x": {"field": "i", "type": "quantitative"},
      "y": {"field": "v", "type": "quantitative"}
    }},
   {"data": {"name": "arrdn"}, "mark": {"type": "point", "shape": "M-0.4,-1L0.4,-1L0.4,0.1L0.9,0.1L0,1L-0.9,0.1L-0.4,0.1Z", "size": 200, "filled": true, "fill": "#ffffff", "stroke": "#EE3EEE", "strokeWidth": 1.5, "opacity": 1},
    "encoding": {
      "x": {"field": "i", "type": "quantitative"},
      "y": {"field": "v", "type": "quantitative"}
    }},
   {"data": {"name": "arrup"}, "mark": {"type": "point", "shape": "M-0.4,1L0.4,1L0.4,-0.1L0.9,-0.1L0,-1L-0.9,-0.1L-0.4,-0.1Z", "size": 200, "filled": true, "fill": "#ffffff", "stroke": "#3030E0", "strokeWidth": 1.5, "opacity": 1},
    "encoding": {
      "x": {"field": "i", "type": "quantitative"},
      "y": {"field": "v", "type": "quantitative"}
    }}
  ]
 }
],
"resolve": {"scale": {"y": "independent"}}
}
